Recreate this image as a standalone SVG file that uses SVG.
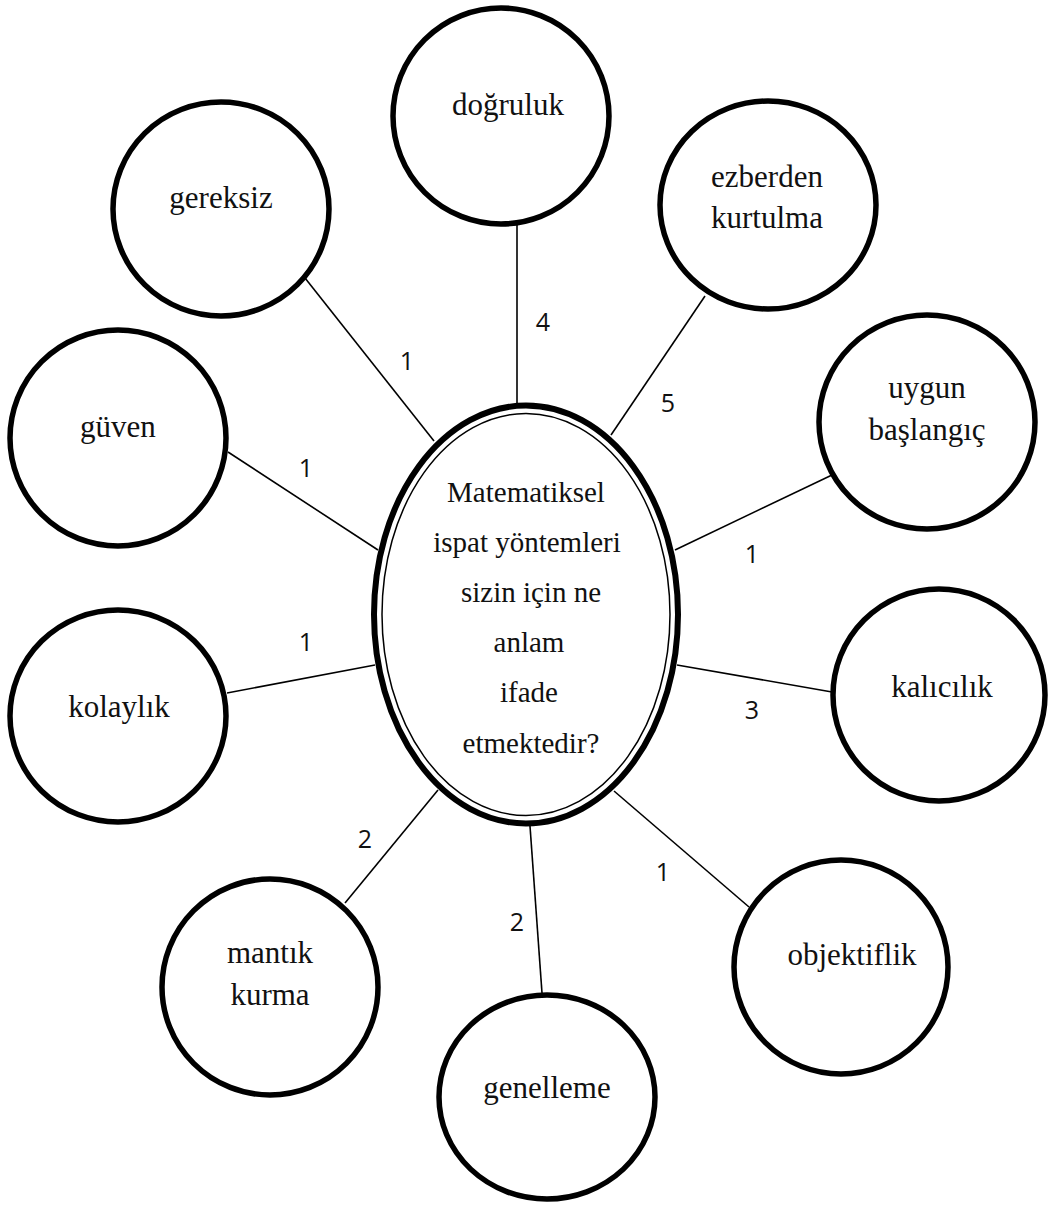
<svg xmlns="http://www.w3.org/2000/svg" width="1049" height="1208" viewBox="0 0 1049 1208">
<style>
.node{fill:#fff;stroke:#000;stroke-width:5.5}
.lbl{font-family:"Liberation Serif","Times New Roman",serif;font-size:31px;fill:#111;text-anchor:middle}
.ctr{font-family:"Liberation Serif","Times New Roman",serif;font-size:29px;fill:#111;text-anchor:middle}
.num{font-family:"Open Sans",Lato,"Liberation Sans",sans-serif;font-size:25px;fill:#111;text-anchor:middle}
.conn line{stroke:#000;stroke-width:1.6}
</style>
<rect width="1049" height="1208" fill="#fff"/>
<g id="connectors" class="conn">
<line x1="305" y1="278" x2="434" y2="441"/>
<line x1="517" y1="222" x2="517" y2="404"/>
<line x1="705" y1="296" x2="611" y2="435"/>
<line x1="832" y1="475" x2="675" y2="550"/>
<line x1="228" y1="452" x2="378" y2="550"/>
<line x1="227" y1="693" x2="375" y2="665"/>
<line x1="677" y1="665" x2="832" y2="692"/>
<line x1="438" y1="790" x2="345" y2="903"/>
<line x1="530" y1="826" x2="542" y2="993"/>
<line x1="614" y1="791" x2="749" y2="907"/>
</g>
<g id="edge-labels" class="num">
<text x="407" y="370">1</text>
<text x="543" y="331">4</text>
<text x="668" y="412">5</text>
<text x="306" y="477">1</text>
<text x="752" y="563">1</text>
<text x="306" y="651">1</text>
<text x="752" y="719">3</text>
<text x="365" y="848">2</text>
<text x="517" y="931">2</text>
<text x="663" y="881">1</text>
</g>
<g id="center">
<ellipse cx="526" cy="614.5" rx="152" ry="209" fill="#fff" stroke="#000" stroke-width="6"/>
<ellipse cx="526" cy="614.5" rx="144" ry="201" fill="none" stroke="#000" stroke-width="1.5"/>
<text class="ctr" x="526" y="502">Matematiksel</text>
<text class="ctr" x="527" y="552">ispat yöntemleri</text>
<text class="ctr" x="531" y="602">sizin için ne</text>
<text class="ctr" x="529" y="652">anlam</text>
<text class="ctr" x="529" y="702">ifade</text>
<text class="ctr" x="531" y="753">etmektedir?</text>
</g>
<g id="n-dogruluk"><ellipse class="node" cx="501" cy="116" rx="108" ry="108"/><text class="lbl" x="508" y="115">doğruluk</text></g>
<g id="n-gereksiz"><ellipse class="node" cx="221" cy="209" rx="108" ry="107"/><text class="lbl" x="221" y="208">gereksiz</text></g>
<g id="n-ezberden"><ellipse class="node" cx="768" cy="205" rx="108" ry="104"/><text class="lbl" x="767" y="187">ezberden</text><text class="lbl" x="767" y="228">kurtulma</text></g>
<g id="n-guven"><ellipse class="node" cx="118" cy="438" rx="108" ry="108"/><text class="lbl" x="118" y="437">güven</text></g>
<g id="n-uygun"><ellipse class="node" cx="927" cy="422" rx="108" ry="107"/><text class="lbl" x="927" y="398">uygun</text><text class="lbl" x="927" y="440">başlangıç</text></g>
<g id="n-kolaylik"><ellipse class="node" cx="118" cy="716" rx="108" ry="106"/><text class="lbl" x="119" y="717">kolaylık</text></g>
<g id="n-kalicilik"><ellipse class="node" cx="939" cy="695" rx="106" ry="106"/><text class="lbl" x="942" y="697">kalıcılık</text></g>
<g id="n-mantik"><ellipse class="node" cx="270" cy="987" rx="108" ry="108"/><text class="lbl" x="270" y="963">mantık</text><text class="lbl" x="270" y="1005">kurma</text></g>
<g id="n-genelleme"><ellipse class="node" cx="547" cy="1097" rx="108" ry="102"/><text class="lbl" x="547" y="1098">genelleme</text></g>
<g id="n-objektiflik"><ellipse class="node" cx="841" cy="967" rx="107" ry="107"/><text class="lbl" x="852" y="965">objektiflik</text></g>
</svg>
